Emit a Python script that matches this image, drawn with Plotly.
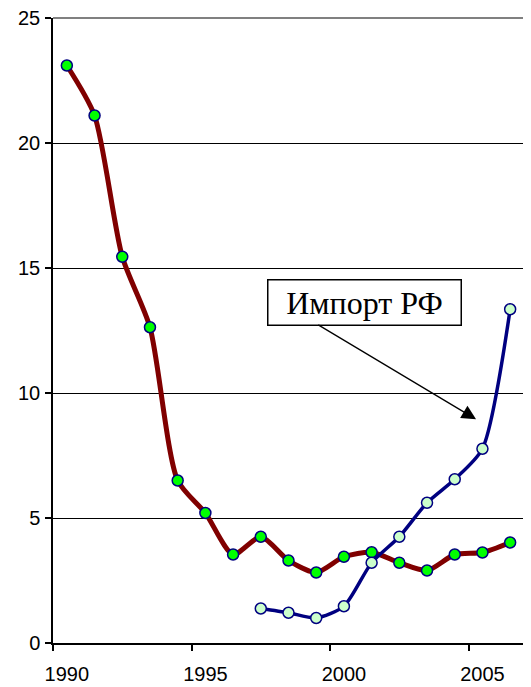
import plotly.graph_objects as go

years_red = [1990, 1991, 1992, 1993, 1994, 1995, 1996, 1997, 1998, 1999,
             2000, 2001, 2002, 2003, 2004, 2005, 2006]
values_red = [23.1, 21.1, 15.45, 12.63, 6.5, 5.2, 3.54, 4.25, 3.3, 2.82,
              3.45, 3.63, 3.21, 2.9, 3.54, 3.62, 4.02]

years_blue = [1997, 1998, 1999, 2000, 2001, 2002, 2003, 2004, 2005, 2006]
values_blue = [1.38, 1.21, 1.0, 1.47, 3.21, 4.25, 5.61, 6.55, 7.77, 13.35]

x_tick_vals = [1990, 1995, 2000, 2005]
x_tick_text = ["1990", "1995", "2000", "2005"]
x_boundary_ticks = [1989.5, 1994.5, 1999.5, 2004.5]
y_tick_vals = [0, 5, 10, 15, 20, 25]

label_text = "Импорт РФ"

fig = go.Figure()
fig.add_trace(go.Scatter(
    x=years_red, y=values_red, mode="lines+markers",
    line=dict(color="#800000", width=5, shape="spline", smoothing=0.7),
    marker=dict(symbol="circle", size=11, color="#00FF00",
                line=dict(color="#000080", width=1.5)),
    showlegend=False, hoverinfo="x+y"))
fig.add_trace(go.Scatter(
    x=years_blue, y=values_blue, mode="lines+markers",
    line=dict(color="#000080", width=3.5, shape="spline", smoothing=0.7),
    marker=dict(symbol="circle", size=11, color="#CCFFCC",
                line=dict(color="#000080", width=1.5)),
    showlegend=False, hoverinfo="x+y"))

axis_font = dict(family="Liberation Sans, Arial, sans-serif", size=20, color="black")

# the page body has an 8px margin, so the figure is sized/offset to compensate
fig.update_layout(
    width=523, height=679,
    margin=dict(l=45, r=7, t=10, b=44, autoexpand=False),
    paper_bgcolor="white", plot_bgcolor="white",
    xaxis=dict(
        range=[1989.5, 2006.5], tickmode="array",
        tickvals=x_tick_vals, ticktext=x_tick_text,
        ticks="", showgrid=False, zeroline=False, automargin=False,
        showline=True, linecolor="black", linewidth=1.5,
        tickfont=axis_font, ticklabelstandoff=12, ticklabeloverflow="allow",
        minor=dict(tickmode="array", tickvals=x_boundary_ticks, ticks="outside",
                   ticklen=6, tickwidth=1.5, tickcolor="black", showgrid=False),
    ),
    yaxis=dict(
        range=[0, 25], tickmode="array", tickvals=y_tick_vals,
        ticks="outside", ticklen=6, tickwidth=1.5, tickcolor="black",
        showgrid=True, gridcolor="black", gridwidth=1.3, zeroline=False,
        automargin=False,
        showline=True, linecolor="black", linewidth=1.5,
        tickfont=axis_font, ticklabelstandoff=1, ticklabeloverflow="allow",
    ),
)

# plot-area border (top and right, gray)
fig.add_shape(type="line", xref="paper", yref="paper", x0=0, x1=1, y0=1, y1=1,
              line=dict(color="#808080", width=2), layer="between")
fig.add_shape(type="line", xref="paper", yref="paper", x0=1, x1=1, y0=0, y1=1,
              line=dict(color="#808080", width=2), layer="between")

# label box
fig.add_annotation(
    x=2000.73, y=13.62, xref="x", yref="y", text=label_text, showarrow=False,
    font=dict(family="Liberation Serif, Times New Roman, serif", size=32, color="black"),
    bgcolor="white", bordercolor="black", borderwidth=1.5, borderpad=2,
    width=188, height=40)

# arrow
fig.add_annotation(
    x=2004.77, y=8.95, xref="x", yref="y",
    ax=1999.02, ay=12.76, axref="x", ayref="y",
    text="", showarrow=True, arrowhead=2, arrowsize=2.2, arrowwidth=1.3,
    arrowcolor="black", standoff=0, startstandoff=0)

fig.write_html("out.html")
